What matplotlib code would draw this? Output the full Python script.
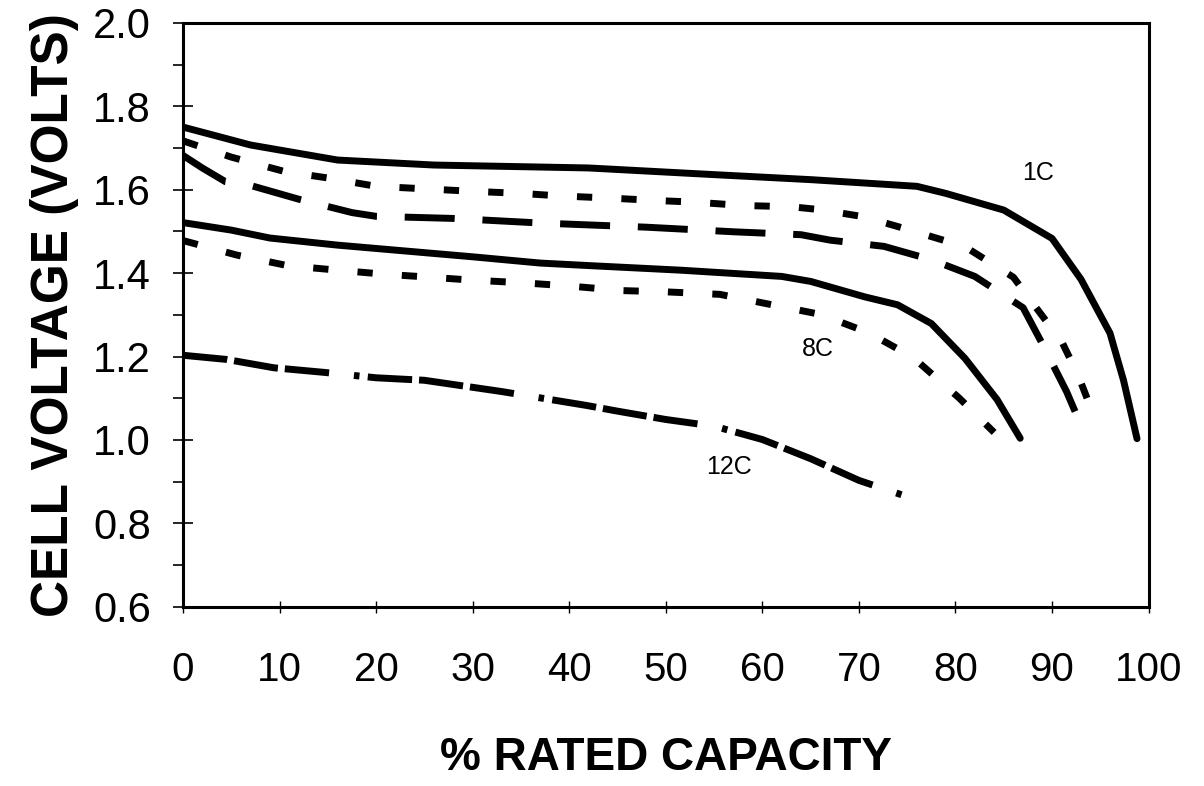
import matplotlib
matplotlib.use("Agg")
import matplotlib.pyplot as plt
from matplotlib.ticker import MultipleLocator

plt.rcParams['font.family'] = ['Liberation Sans', 'DejaVu Sans']
plt.rcParams['lines.scale_dashes'] = False

# discharge curves (% rated capacity, volts)
cap_1c = [0, 7, 16, 26, 42, 55, 65, 76, 79, 85, 90, 93, 96, 97.4, 98.8]
volt_1c = [1.75, 1.707, 1.671, 1.659, 1.652, 1.636, 1.624, 1.608, 1.591, 1.551, 1.483, 1.385, 1.256, 1.143, 1.003]

cap_2c = [0, 5, 10.6, 15, 20, 25, 30, 35, 39, 44, 49, 53, 58, 63, 66, 70.5, 75, 81, 86, 89, 91, 92.7, 94.6]
volt_2c = [1.717, 1.678, 1.643, 1.628, 1.608, 1.602, 1.596, 1.591, 1.585, 1.580, 1.574, 1.570, 1.562, 1.559,
           1.552, 1.535, 1.505, 1.463, 1.390, 1.297, 1.236, 1.155, 1.042]

cap_4c = [0, 2, 4.4, 7, 12, 17.5, 20, 28, 37, 48, 57, 64, 67, 72.6, 77.5, 82, 87, 89, 91.5, 92.5]
volt_4c = [1.682, 1.652, 1.619, 1.610, 1.577, 1.545, 1.536, 1.531, 1.520, 1.510, 1.499, 1.492, 1.479, 1.464,
           1.432, 1.392, 1.317, 1.230, 1.116, 1.062]

cap_6c = [0, 5, 9, 16, 23, 30, 37, 42, 51.5, 62, 65, 70.6, 74, 77.5, 81, 84.3, 86.7]
volt_6c = [1.521, 1.503, 1.484, 1.467, 1.453, 1.439, 1.424, 1.418, 1.407, 1.392, 1.380, 1.343, 1.324, 1.279,
           1.195, 1.097, 1.004]

cap_8c = [0, 5.6, 10.8, 15.5, 21, 25, 30, 35, 40, 45.5, 50, 55.6, 61, 66, 71, 75.6, 80.4, 84]
volt_8c = [1.478, 1.443, 1.418, 1.408, 1.397, 1.391, 1.383, 1.377, 1.369, 1.358, 1.355, 1.349, 1.324, 1.301,
           1.257, 1.198, 1.100, 1.018]

cap_12c = [0, 4.5, 9.4, 14.6, 20, 25, 33, 41.7, 45, 50, 55, 60, 65, 70, 75]
volt_12c = [1.203, 1.193, 1.173, 1.162, 1.149, 1.143, 1.116, 1.083, 1.069, 1.049, 1.033, 1.001, 0.955, 0.903, 0.864]

labels = ['1C', '8C', '12C']
label_pos = [(88.5, 1.64), (65.7, 1.217), (56.5, 0.936)]

fig = plt.figure(figsize=(12.04, 7.86), dpi=100)
ax = fig.add_axes([0.152, 0.228, 0.802, 0.743])

lw = 5
ax.plot(cap_1c, volt_1c, color='black', lw=lw, solid_capstyle='round', solid_joinstyle='round')
ax.plot(cap_2c, volt_2c, color='black', lw=lw, dashes=(11, 21))
ax.plot(cap_4c, volt_4c, color='black', lw=lw, dashes=(36, 20))
ax.plot(cap_6c, volt_6c, color='black', lw=lw, solid_capstyle='round', solid_joinstyle='round')
ax.plot(cap_8c, volt_8c, color='black', lw=lw, dashes=(11, 21))
ax.plot(cap_12c, volt_12c, color='black', lw=lw, dashes=(32, 5, 32, 5, 32, 18, 4, 6))

for text, (x, y) in zip(labels, label_pos):
    ax.text(x, y, text, fontsize=18, ha='center', va='center')

ax.set_xlim(0, 100)
ax.set_ylim(0.6, 2.0)
ax.xaxis.set_major_locator(MultipleLocator(10))
ax.yaxis.set_major_locator(MultipleLocator(0.2))
ax.yaxis.set_minor_locator(MultipleLocator(0.1))
ax.yaxis.set_major_formatter(plt.FormatStrFormatter('%.1f'))

for side in ax.spines.values():
    side.set_linewidth(2.2)

ax.tick_params(axis='y', which='major', direction='inout', length=14, width=1.2,
               labelsize=30, pad=16)
ax.tick_params(axis='y', which='minor', direction='out', length=7, width=1.2)
ax.tick_params(axis='x', which='major', direction='inout', length=8, width=1,
               labelsize=29, pad=28)

ax.set_ylabel('CELL VOLTAGE (VOLTS)', fontsize=37, fontweight='bold', labelpad=10)
ax.set_xlabel('% RATED CAPACITY', fontsize=33, fontweight='bold', labelpad=34)

fig.savefig('out.png', dpi=100)
